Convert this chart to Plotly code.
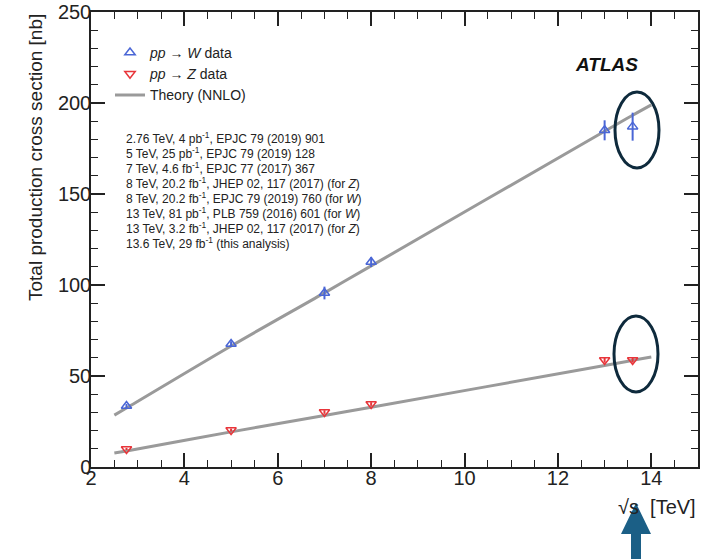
import plotly.graph_objects as go

# Centre-of-mass energies (TeV) and measured total cross sections (nb)
w_sqrt_s = [2.76, 5.0, 7.0, 8.0, 13.0, 13.6]
w_sigma = [33.5, 67.6, 95.6, 112.6, 185.0, 187.0]
w_err = [1.2, 1.5, 3.5, 2.7, 5.5, 7.7]

z_sqrt_s = [2.76, 5.0, 7.0, 8.0, 13.0, 13.6]
z_sigma = [9.9, 20.3, 30.2, 34.6, 58.8, 58.8]
z_err = [0.6, 0.8, 1.0, 1.0, 1.5, 1.5]

# NNLO predictions
theory_sqrt_s = [2.5, 2.76, 5.0, 7.0, 8.0, 13.0, 13.6, 14.0]
theory_w = [28.5, 32.4, 66.5, 95.7, 110.5, 184.5, 193.3, 199.0]
theory_z = [7.7, 8.8, 19.3, 28.3, 32.8, 55.8, 58.6, 60.4]

references = [
    "2.76 TeV, 4 pb<sup>-1</sup>, EPJC 79 (2019) 901",
    "5 TeV, 25 pb<sup>-1</sup>, EPJC 79 (2019) 128",
    "7 TeV, 4.6 fb<sup>-1</sup>, EPJC 77 (2017) 367",
    "8 TeV, 20.2 fb<sup>-1</sup>, JHEP 02, 117 (2017) (for <i>Z</i>)",
    "8 TeV, 20.2 fb<sup>-1</sup>, EPJC 79 (2019) 760 (for <i>W</i>)",
    "13 TeV, 81 pb<sup>-1</sup>, PLB 759 (2016) 601 (for <i>W</i>)",
    "13 TeV, 3.2 fb<sup>-1</sup>, JHEP 02, 117 (2017) (for <i>Z</i>)",
    "13.6 TeV, 29 fb<sup>-1</sup> (this analysis)",
]

FONT = "Liberation Sans, Arial, Helvetica, sans-serif"
W_COLOR = "#4a66d6"
Z_COLOR = "#e8353a"
THEORY_COLOR = "#9a9a9a"
RING_COLOR = "#0e2a3c"
ARROW_COLOR = "#1b5f86"

# plot-area geometry in pixels
W_PX, H_PX = 715, 559
L, R, T, B = 91, 17, 12, 92
PW, PH = W_PX - L - R, H_PX - T - B


def px(x):
    return (x - L) / PW


def py(y):
    return (H_PX - B - y) / PH


fig = go.Figure()

# theory curves first so the data markers sit on top
fig.add_trace(go.Scatter(
    x=theory_sqrt_s, y=theory_w, mode="lines", name="Theory (NNLO)",
    legendrank=3,
    line=dict(color=THEORY_COLOR, width=3, shape="spline"),
))
fig.add_trace(go.Scatter(
    x=theory_sqrt_s, y=theory_z, mode="lines", showlegend=False,
    line=dict(color=THEORY_COLOR, width=3, shape="spline"),
))
fig.add_trace(go.Scatter(
    x=w_sqrt_s, y=w_sigma, mode="markers",
    name="<i>pp</i> \u2192 <i>W</i> data", legendrank=1,
    marker=dict(symbol="triangle-up-open", size=9, color=W_COLOR,
                line=dict(width=1.5, color=W_COLOR)),
    error_y=dict(type="data", array=w_err, color=W_COLOR, thickness=2, width=0),
))
fig.add_trace(go.Scatter(
    x=z_sqrt_s, y=z_sigma, mode="markers",
    name="<i>pp</i> \u2192 <i>Z</i> data", legendrank=2,
    marker=dict(symbol="triangle-down-open", size=9, color=Z_COLOR,
                line=dict(width=1.5, color=Z_COLOR)),
    error_y=dict(type="data", array=z_err, color=Z_COLOR, thickness=2, width=0),
))

axis_common = dict(
    showline=True, linecolor="#222", linewidth=1.5, mirror="ticks",
    ticks="inside", ticklen=14, tickwidth=1.5, tickcolor="#222",
    showgrid=False, zeroline=False, automargin=False,
    tickfont=dict(family=FONT, size=20, color="#222"),
)

fig.update_xaxes(
    range=[2, 15], tick0=2, dtick=2, ticklabelstandoff=-8, **axis_common,
    minor=dict(ticks="inside", ticklen=7, tickwidth=1.2, tickcolor="#222",
               dtick=0.5, tick0=2, showgrid=False),
)
fig.update_yaxes(
    range=[0, 250], tick0=0, dtick=50, ticklabelstandoff=-6, **axis_common,
    minor=dict(ticks="inside", ticklen=7, tickwidth=1.2, tickcolor="#222",
               dtick=10, tick0=0, showgrid=False),
)

annotations = []
for i, line in enumerate(references):
    annotations.append(dict(
        x=px(124), y=py(138 + 15 * i), xref="paper", yref="paper",
        xanchor="left", yanchor="middle", showarrow=False, text=line,
        font=dict(family=FONT, size=12, color="#222"),
    ))
annotations.append(dict(
    x=px(606), y=py(64), xref="paper", yref="paper", showarrow=False,
    xanchor="center", yanchor="middle",
    text="<b><i>ATLAS</i></b>", font=dict(family=FONT, size=19, color="#111"),
))
annotations.append(dict(
    x=1.0, y=py(507), xref="paper", yref="paper", xanchor="right",
    yanchor="middle", showarrow=False, text="\u221As  [TeV]",
    font=dict(family=FONT, size=20, color="#222"),
))
annotations.append(dict(
    x=px(35), y=py(158), xref="paper", yref="paper", xanchor="center",
    yanchor="middle", showarrow=False, textangle=-90,
    text="Total production cross section [nb]",
    font=dict(family=FONT, size=19, color="#222"),
))

shapes = [
    # rings around the 13.6 TeV measurements
    dict(type="circle", xref="paper", yref="paper",
         x0=px(615), x1=px(659), y0=py(92), y1=py(168),
         line=dict(color=RING_COLOR, width=3)),
    dict(type="circle", xref="paper", yref="paper",
         x0=px(614), x1=px(658), y0=py(316), y1=py(392),
         line=dict(color=RING_COLOR, width=3)),
]
arrow_pts = [(636, 503), (651, 534), (641, 534), (641, 559),
             (631, 559), (631, 534), (621, 534)]
path = "M " + " L ".join(f"{px(x):.5f},{py(y):.5f}" for x, y in arrow_pts) + " Z"
shapes.append(dict(type="path", xref="paper", yref="paper", path=path,
                   fillcolor=ARROW_COLOR, line=dict(width=0)))

fig.update_layout(
    width=W_PX, height=H_PX,
    margin=dict(l=L, r=R, t=T, b=B, autoexpand=False),
    paper_bgcolor="white", plot_bgcolor="white",
    font=dict(family=FONT, color="#222"),
    showlegend=True,
    legend=dict(x=px(110), y=py(37), xanchor="left", yanchor="top",
                bgcolor="rgba(0,0,0,0)", font=dict(family=FONT, size=14),
                itemwidth=30, tracegroupgap=0, traceorder="normal"),
    annotations=annotations,
    shapes=shapes,
)

fig.write_html("out.html")
